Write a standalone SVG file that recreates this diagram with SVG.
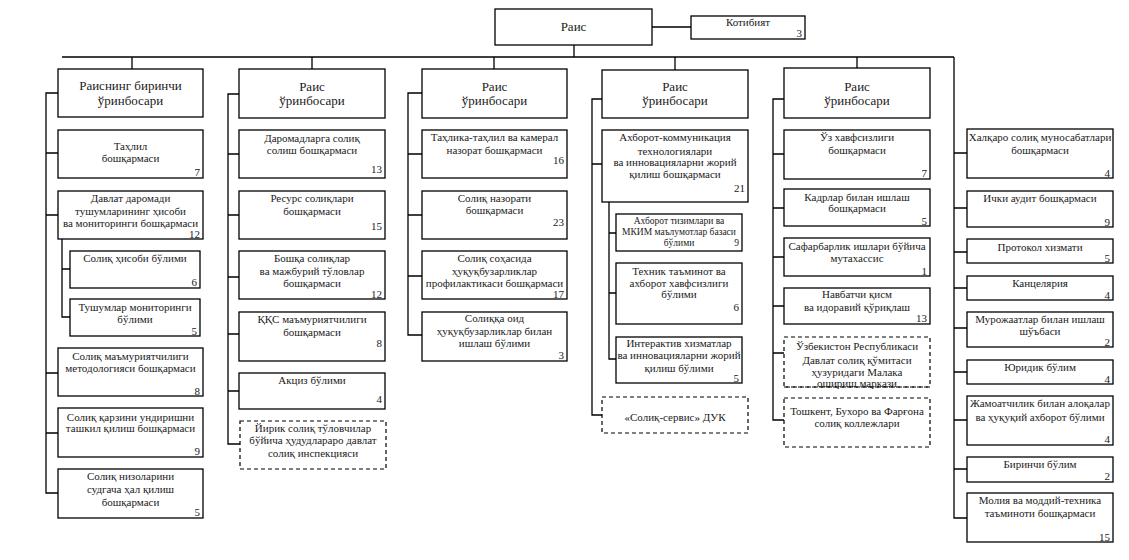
<svg xmlns="http://www.w3.org/2000/svg" width="1129" height="560" viewBox="0 0 1129 560">
<style>
.box{fill:#fff;stroke:#000;stroke-width:1.3}
.dash{fill:#fff;stroke:#000;stroke-width:1.2;stroke-dasharray:4 3}
.ln{fill:none;stroke:#000;stroke-width:1.3}
text{font-family:"Liberation Serif","Times New Roman",serif;font-size:11px;fill:#1a1a1a;text-anchor:middle}
.h{font-size:13px}
.n{text-anchor:end}
.s{font-size:9.5px}
</style>
<rect width="1129" height="560" fill="#fff"/>
<g id="connectors" class="ln">
<path d="M652 27H691M574 45V57M62 57H954M132 57V69M312 57V69M494 57V69M675 57V70M857 57V68"/>
<path d="M58 93H46V493H58M46 153H58M46 215H58M46 373H58M46 433H58M62 239V317H70M62 269H70"/>
<path d="M239 94H228V444H240M228 154H239M228 215H239M228 277H239M228 334H239M228 391H239"/>
<path d="M422 93H408V335H422M408 154H422M408 215H422M408 276H422"/>
<path d="M602 99H592V415H602M592 164H602M609 202V359H616M609 233H616M609 293H616"/>
<path d="M784 99H773V420H784M773 154H784M773 208H784M773 257H784M773 306H784M773 353H784"/>
<path d="M954 57V518H967M954 153H967M954 208H967M954 252H967M954 288H967M954 328H967M954 372H967M954 420H967M954 469H967"/>
</g>
<g id="rais"><rect class="box" x="495" y="9" width="157" height="36"/><text class="h" x="573.5" y="31">Раис</text></g>
<g id="kotibiyat"><rect class="box" x="691" y="16" width="114" height="23"/><text x="748" y="26">Котибият</text><text class="n" x="802" y="37">3</text></g>

<g id="c1-head"><rect class="box" x="58" y="69" width="145" height="48"/><text class="h" x="130.5" y="90">Раиснинг биринчи</text><text class="h" x="130.5" y="105">ўринбосари</text></g>
<g id="c1-1"><rect class="box" x="58" y="130" width="145" height="48"/><text x="130.5" y="150">Таҳлил</text><text x="130.5" y="161.5">бошқармаси</text><text class="n" x="200" y="175.5">7</text></g>
<g id="c1-2"><rect class="box" x="58" y="191" width="145" height="48"/><text x="130.5" y="202">Давлат даромади</text><text x="130.5" y="215">тушумларининг ҳисоби</text><text x="130.5" y="227">ва мониторинги бошқармаси</text><text class="n" x="200" y="238">12</text></g>
<g id="c1-2a"><rect class="box" x="70" y="251" width="130" height="37"/><text x="135" y="261.5">Солиқ ҳисоби бўлими</text><text class="n" x="197" y="285.5">6</text></g>
<g id="c1-2b"><rect class="box" x="70" y="299" width="130" height="37"/><text x="135" y="311">Тушумлар мониторинги</text><text x="135" y="323">бўлими</text><text class="n" x="197" y="334.5">5</text></g>
<g id="c1-3"><rect class="box" x="58" y="348" width="145" height="48"/><text x="130.5" y="359.5">Солиқ маъмуриятчилиги</text><text x="130.5" y="371.5">методологияси бошқармаси</text><text class="n" x="200" y="394.5">8</text></g>
<g id="c1-4"><rect class="box" x="58" y="408" width="145" height="49"/><text x="130.5" y="420.5">Солиқ қарзини ундиришни</text><text x="130.5" y="432">ташкил қилиш бошқармаси</text><text class="n" x="200" y="455">9</text></g>
<g id="c1-5"><rect class="box" x="58" y="469" width="145" height="49"/><text x="130.5" y="480">Солиқ низоларини</text><text x="130.5" y="493">судгача ҳал қилиш</text><text x="130.5" y="506">бошқармаси</text><text class="n" x="200" y="516">5</text></g>

<g id="c2-head"><rect class="box" x="239" y="69" width="146" height="49"/><text class="h" x="312" y="90.5">Раис</text><text class="h" x="312" y="105">ўринбосари</text></g>
<g id="c2-1"><rect class="box" x="239" y="130" width="146" height="48"/><text x="312" y="141.5">Даромадларга солиқ</text><text x="312" y="154">солиш бошқармаси</text><text class="n" x="382" y="173">13</text></g>
<g id="c2-2"><rect class="box" x="239" y="191" width="146" height="48"/><text x="312" y="201.5">Ресурс солиқлари</text><text x="312" y="214.5">бошқармаси</text><text class="n" x="382" y="230">15</text></g>
<g id="c2-3"><rect class="box" x="239" y="251" width="146" height="48"/><text x="312" y="262">Бошқа солиқлар</text><text x="312" y="274.5">ва мажбурий тўловлар</text><text x="312" y="286.5">бошқармаси</text><text class="n" x="382" y="298">12</text></g>
<g id="c2-4"><rect class="box" x="239" y="312" width="146" height="49"/><text x="312" y="323">ҚҚС маъмуриятчилиги</text><text x="312" y="335.5">бошқармаси</text><text class="n" x="382" y="347">8</text></g>
<g id="c2-5"><rect class="box" x="239" y="373" width="146" height="36"/><text x="312" y="384">Акциз бўлими</text><text class="n" x="382" y="403">4</text></g>
<g id="c2-6"><rect class="dash" x="240" y="421" width="146" height="48"/><text x="313" y="431.5">Йирик солиқ тўловчилар</text><text x="313" y="444">бўйича ҳудудлараро давлат</text><text x="313" y="456.5">солиқ инспекцияси</text></g>

<g id="c3-head"><rect class="box" x="422" y="69" width="145" height="49"/><text class="h" x="494.5" y="90.5">Раис</text><text class="h" x="494.5" y="105">ўринбосари</text></g>
<g id="c3-1"><rect class="box" x="422" y="130" width="145" height="48"/><text x="494.5" y="141">Таҳлика-таҳлил ва камерал</text><text x="494.5" y="154">назорат бошқармаси</text><text class="n" x="564" y="164">16</text></g>
<g id="c3-2"><rect class="box" x="422" y="191" width="145" height="48"/><text x="494.5" y="201.5">Солиқ назорати</text><text x="494.5" y="214">бошқармаси</text><text class="n" x="564" y="225.5">23</text></g>
<g id="c3-3"><rect class="box" x="422" y="251" width="145" height="48"/><text x="494.5" y="262">Солиқ соҳасида</text><text x="494.5" y="274.5">ҳуқуқбузарликлар</text><text x="494.5" y="286.5">профилактикаси бошқармаси</text><text class="n" x="564" y="298">17</text></g>
<g id="c3-4"><rect class="box" x="422" y="312" width="145" height="49"/><text x="494.5" y="322">Солиққа оид</text><text x="494.5" y="335">ҳуқуқбузарликлар билан</text><text x="494.5" y="346.5">ишлаш бўлими</text><text class="n" x="564" y="359">3</text></g>

<g id="c4-head"><rect class="box" x="602" y="70" width="146" height="48"/><text class="h" x="675" y="90.5">Раис</text><text class="h" x="675" y="105">ўринбосари</text></g>
<g id="c4-1"><rect class="box" x="602" y="130" width="146" height="72"/><text x="675" y="141">Ахборот-коммуникация</text><text x="675" y="154.5">технологиялари</text><text x="675" y="166">ва инновацияларни жорий</text><text x="675" y="178">қилиш бошқармаси</text><text class="n" x="745" y="191.5">21</text></g>
<g id="c4-1a"><rect class="box" x="616" y="214" width="126" height="37"/><text class="s" x="679" y="224">Ахборот тизимлари ва</text><text class="s" x="679" y="235">МКИМ маълумотлар базаси</text><text class="s" x="679" y="246">бўлими</text><text class="n s" x="739" y="246">9</text></g>
<g id="c4-1b"><rect class="box" x="616" y="263" width="126" height="61"/><text x="679" y="274.5">Техник таъминот ва</text><text x="679" y="286.5">ахборот хавфсизлиги</text><text x="679" y="298">бўлими</text><text class="n" x="739" y="310.5">6</text></g>
<g id="c4-1c"><rect class="box" x="616" y="337" width="126" height="46"/><text x="679" y="347">Интерактив хизматлар</text><text x="679" y="359">ва инновацияларни жорий</text><text x="679" y="371.5">қилиш бўлими</text><text class="n" x="739" y="382">5</text></g>
<g id="c4-2"><rect class="dash" x="602" y="397" width="146" height="36"/><text x="675" y="420.5">«Солиқ-сервис» ДУК</text></g>

<g id="c5-head"><rect class="box" x="784" y="68" width="146" height="50"/><text class="h" x="857" y="90.5">Раис</text><text class="h" x="857" y="105">ўринбосари</text></g>
<g id="c5-1"><rect class="box" x="784" y="130" width="146" height="49"/><text x="857" y="140.5">Ўз хавфсизлиги</text><text x="857" y="154">бошқармаси</text><text class="n" x="927" y="177">7</text></g>
<g id="c5-2"><rect class="box" x="784" y="189" width="146" height="37"/><text x="857" y="200.5">Кадрлар билан ишлаш</text><text x="857" y="212">бошқармаси</text><text class="n" x="927" y="225">5</text></g>
<g id="c5-3"><rect class="box" x="784" y="238" width="146" height="38"/><text x="857" y="249.5">Сафарбарлик ишлари бўйича</text><text x="857" y="262">мутахассис</text><text class="n" x="927" y="274.5">1</text></g>
<g id="c5-4"><rect class="box" x="784" y="288" width="146" height="36"/><text x="857" y="298">Навбатчи қисм</text><text x="857" y="311">ва идоравий қўриқлаш</text><text class="n" x="927" y="322">13</text></g>
<g id="c5-5"><rect class="dash" x="784" y="337" width="146" height="50" fill="none"/><text x="857" y="350">Ўзбекистон Республикаси</text><text x="857" y="364">Давлат солиқ қўмитаси</text><text x="857" y="375.5">ҳузуридаги Малака</text><text x="857" y="387">ошириш маркази</text><path d="M784 387H930" stroke="#000" stroke-width="1.2" stroke-dasharray="4 3"/></g>
<g id="c5-6"><rect class="dash" x="784" y="398" width="146" height="49"/><text x="857" y="415">Тошкент, Бухоро ва Фарғона</text><text x="857" y="427">солиқ коллежлари</text></g>

<g id="c6-1"><rect class="box" x="967" y="129" width="146" height="49"/><text x="1040" y="140.5">Халқаро солиқ муносабатлари</text><text x="1040" y="154">бошқармаси</text><text class="n" x="1110" y="176.5">4</text></g>
<g id="c6-2"><rect class="box" x="967" y="191" width="146" height="36"/><text x="1040" y="202">Ички аудит бошқармаси</text><text class="n" x="1110" y="225.5">9</text></g>
<g id="c6-3"><rect class="box" x="967" y="239" width="146" height="24"/><text x="1040" y="250.5">Протокол хизмати</text><text class="n" x="1110" y="262">5</text></g>
<g id="c6-4"><rect class="box" x="967" y="276" width="146" height="24"/><text x="1040" y="286.5">Канцелярия</text><text class="n" x="1110" y="298.5">4</text></g>
<g id="c6-5"><rect class="box" x="967" y="312" width="146" height="35"/><text x="1040" y="323">Мурожаатлар билан ишлаш</text><text x="1040" y="334.5">шўъбаси</text><text class="n" x="1110" y="345.5">2</text></g>
<g id="c6-6"><rect class="box" x="967" y="360" width="146" height="24"/><text x="1040" y="370.5">Юридик бўлим</text><text class="n" x="1110" y="383">4</text></g>
<g id="c6-7"><rect class="box" x="967" y="396" width="146" height="49"/><text x="1040" y="407">Жамоатчилик билан алоқалар</text><text x="1040" y="420.5">ва ҳуқуқий ахборот бўлими</text><text class="n" x="1110" y="443">4</text></g>
<g id="c6-8"><rect class="box" x="967" y="457" width="146" height="25"/><text x="1040" y="468">Биринчи бўлим</text><text class="n" x="1110" y="480">2</text></g>
<g id="c6-9"><rect class="box" x="967" y="493" width="146" height="49"/><text x="1040" y="504">Молия ва моддий-техника</text><text x="1040" y="516.5">таъминоти бошқармаси</text><text class="n" x="1110" y="540.5">15</text></g>
</svg>
